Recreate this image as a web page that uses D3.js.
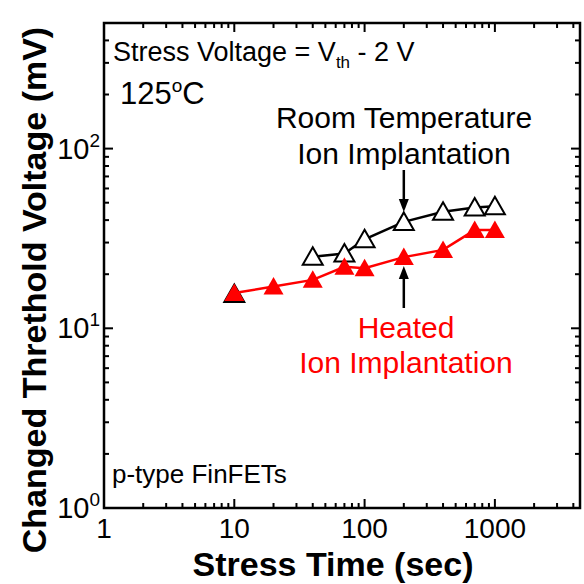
<!DOCTYPE html>
<html>
<head>
<meta charset="utf-8">
<script src="https://cdn.jsdelivr.net/npm/d3@7"></script>
<style>
body { margin: 0; background: #fff; }
text { font-family: "Liberation Sans", Arial, sans-serif; }
</style>
</head>
<body>
<svg id="chart" width="584" height="584"></svg>
<script>
// heated ion implantation (red, filled)
var heatedTime = [10, 20, 40, 70, 100, 200, 400, 700, 1000];
var heatedDvth = [15.7, 17.1, 18.6, 22.0, 21.6, 24.9, 27.3, 35.2, 35.2];
// room temperature ion implantation (black, open)
var roomTime = [10, 40, 70, 100, 200, 400, 700, 1000];
var roomDvth = [15.5, 25.0, 26.1, 31.3, 39.1, 44.5, 47.0, 47.8];

var xTickValues = [1, 10, 100, 1000];
var xTickLabels = ["1", "10", "100", "1000"];
var yTickValues = [1, 10, 100];
var yTickExps = ["0", "1", "2"];

var svg = d3.select("#chart");
var plotL = 104, plotR = 580, plotT = 23, plotB = 508;

var x = d3.scaleLog().domain([1, 4500]).range([plotL, plotR]);
var y = d3.scaleLog().domain([1, 500]).range([plotB, plotT]);

// minor ticks
var xMinor = [], yMinor = [];
[1, 10, 100, 1000].forEach(function (d) {
    for (var k = 2; k <= 9; k++) {
        if (d * k < x.domain()[1]) xMinor.push(d * k);
        if (d * k < y.domain()[1]) yMinor.push(d * k);
    }
});

var g = svg.append("g");
function tick(x1, y1, x2, y2) {
    g.append("line").attr("x1", x1).attr("y1", y1).attr("x2", x2).attr("y2", y2)
        .attr("stroke", "#000").attr("stroke-width", 2);
}
xTickValues.forEach(function (d) {
    tick(x(d), plotB, x(d), plotB - 9);
    tick(x(d), plotT, x(d), plotT + 9);
});
xMinor.forEach(function (d) {
    tick(x(d), plotB, x(d), plotB - 5);
    tick(x(d), plotT, x(d), plotT + 5);
});
yTickValues.forEach(function (d) {
    tick(plotL, y(d), plotL + 9, y(d));
    tick(plotR, y(d), plotR - 9, y(d));
});
yMinor.forEach(function (d) {
    tick(plotL, y(d), plotL + 5, y(d));
    tick(plotR, y(d), plotR - 5, y(d));
});

// frame
svg.append("rect").attr("x", plotL).attr("y", plotT)
    .attr("width", plotR - plotL).attr("height", plotB - plotT)
    .attr("fill", "none").attr("stroke", "#000").attr("stroke-width", 2.5);

// tick labels
xTickValues.forEach(function (d, i) {
    svg.append("text").attr("x", x(d)).attr("y", 538)
        .attr("text-anchor", "middle").attr("font-size", 28)
        .text(xTickLabels[i]);
});
yTickValues.forEach(function (d, i) {
    var t = svg.append("text").attr("x", plotL - 4).attr("y", y(d) + 10)
        .attr("text-anchor", "end").attr("font-size", 29);
    t.append("tspan").text("10");
    t.append("tspan").attr("font-size", 19).attr("dy", -12).text(yTickExps[i]);
});

// axis titles
svg.append("text").attr("x", 333).attr("y", 576)
    .attr("text-anchor", "middle").attr("font-size", 34).attr("font-weight", "bold")
    .text("Stress Time (sec)");
svg.append("text").attr("transform", "translate(46,290) rotate(-90)")
    .attr("text-anchor", "middle").attr("font-size", 34).attr("font-weight", "bold")
    .text("Changed Threthold Voltage (mV)");

// series
var tri = "M0,-9.5L10,8L-10,8Z";
var line = d3.line()
    .x(function (d) { return x(d[0]); })
    .y(function (d) { return y(d[1]); });

var room = roomTime.map(function (t, i) { return [t, roomDvth[i]]; });
var heated = heatedTime.map(function (t, i) { return [t, heatedDvth[i]]; });

svg.append("path").attr("d", line(room.slice(1)))
    .attr("fill", "none").attr("stroke", "#000").attr("stroke-width", 2.5);
svg.selectAll(".room").data(room).enter().append("path")
    .attr("class", "room")
    .attr("d", tri)
    .attr("transform", function (d) { return "translate(" + x(d[0]) + "," + y(d[1]) + ")"; })
    .attr("fill", "#fff").attr("stroke", "#000").attr("stroke-width", 2);

svg.append("path").attr("d", line(heated))
    .attr("fill", "none").attr("stroke", "#ff0000").attr("stroke-width", 2.5);
svg.selectAll(".heated").data(heated).enter().append("path")
    .attr("class", "heated")
    .attr("d", tri)
    .attr("transform", function (d) { return "translate(" + x(d[0]) + "," + y(d[1]) + ")"; })
    .attr("fill", "#ff0000");

// arrows pointing at the 200 s points
function arrow(xa, y1, y2) {
    var dir = y2 > y1 ? 1 : -1;
    svg.append("line").attr("x1", xa).attr("y1", y1).attr("x2", xa).attr("y2", y2 - dir * 10)
        .attr("stroke", "#000").attr("stroke-width", 2.5);
    svg.append("path")
        .attr("d", "M" + xa + "," + y2 + "L" + (xa - 5) + "," + (y2 - dir * 13) + "L" + (xa + 5) + "," + (y2 - dir * 13) + "Z")
        .attr("fill", "#000");
}
arrow(x(200), 170, y(39.1) - 10);
arrow(x(200), 308, y(24.9) + 9);

// annotations
var sv = svg.append("text").attr("x", 113).attr("y", 61).attr("font-size", 27);
sv.append("tspan").text("Stress Voltage = V");
sv.append("tspan").attr("font-size", 17).attr("dy", 7).text("th");
sv.append("tspan").attr("dy", -7).text(" - 2 V");

var tc = svg.append("text").attr("x", 120).attr("y", 104).attr("font-size", 31);
tc.append("tspan").text("125");
tc.append("tspan").attr("font-size", 19).attr("dy", -12).text("o");
tc.append("tspan").attr("dy", 12).text("C");

svg.append("text").attr("x", 404).attr("y", 128).attr("text-anchor", "middle")
    .attr("font-size", 30).text("Room Temperature");
svg.append("text").attr("x", 404).attr("y", 164).attr("text-anchor", "middle")
    .attr("font-size", 30).text("Ion Implantation");
svg.append("text").attr("x", 406).attr("y", 338).attr("text-anchor", "middle")
    .attr("font-size", 30).attr("fill", "#ff0000").text("Heated");
svg.append("text").attr("x", 406).attr("y", 373).attr("text-anchor", "middle")
    .attr("font-size", 30).attr("fill", "#ff0000").text("Ion Implantation");

svg.append("text").attr("x", 112).attr("y", 483).attr("font-size", 26).text("p-type FinFETs");
</script>
</body>
</html>
